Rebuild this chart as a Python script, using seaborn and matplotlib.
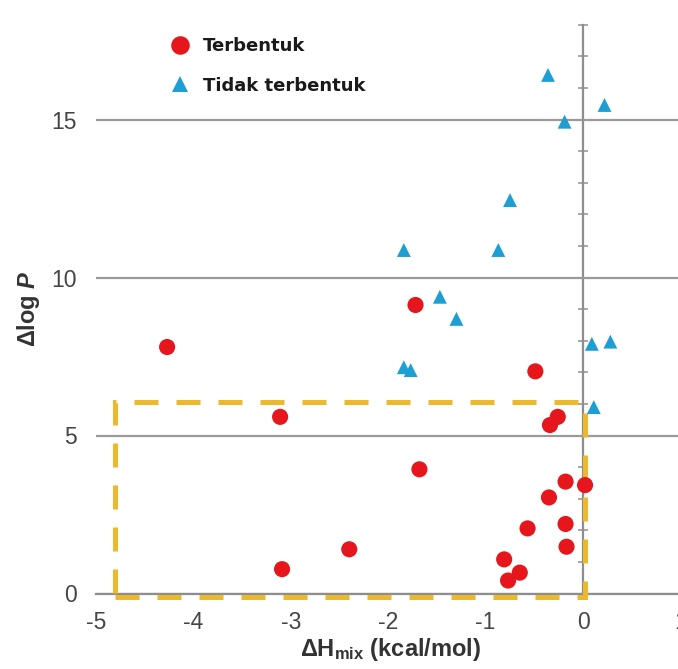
import matplotlib
matplotlib.use("Agg")
import matplotlib.pyplot as plt
from matplotlib.patches import Rectangle
import seaborn as sns
import pandas as pd

# ---- data ----
categories = ["Terbentuk", "Tidak terbentuk"]

terbentuk_dH = [-4.27, -3.11, -3.09, -2.40, -1.72, -1.68, -0.49, -0.26, -0.34,
                -0.18, 0.02, -0.35, -0.57, -0.18, -0.17, -0.81, -0.65, -0.77]
terbentuk_dlogP = [7.80, 5.59, 0.77, 1.40, 9.13, 3.93, 7.03, 5.59, 5.33,
                   3.54, 3.43, 3.04, 2.06, 2.20, 1.48, 1.08, 0.66, 0.41]

tidak_dH = [-0.36, 0.22, -0.19, -0.75, -1.84, -0.87, -1.47, -1.30, -1.84,
            -1.77, 0.09, 0.28, 0.11]
tidak_dlogP = [16.41, 15.46, 14.93, 12.45, 10.87, 10.87, 9.39, 8.69, 7.16,
               7.07, 7.90, 7.97, 5.90]

x_ticks = [-5, -4, -3, -2, -1, 0, 1]
y_ticks = [0, 5, 10, 15]

# highlighted region (dashed box)
box_x0, box_x1 = -4.8, 0.02
box_y0, box_y1 = -0.1, 6.05

df = pd.DataFrame({
    "dH": terbentuk_dH + tidak_dH,
    "dlogP": terbentuk_dlogP + tidak_dlogP,
    "Kategori": [categories[0]] * len(terbentuk_dH) + [categories[1]] * len(tidak_dH),
})

# ---- style ----
sns.set_style("white")
plt.rcParams["font.family"] = ["Liberation Sans", "DejaVu Sans"]
plt.rcParams["axes.unicode_minus"] = False
plt.rcParams["mathtext.fontset"] = "custom"
plt.rcParams["mathtext.rm"] = "Liberation Sans:bold"
plt.rcParams["mathtext.it"] = "Liberation Sans:bold:italic"
plt.rcParams["mathtext.bf"] = "Liberation Sans:bold"

RED = "#E5161C"
BLUE = "#1E9FD4"
GOLD = "#EBB92B"
GRID = "#9A9A9A"
AXC = "#8E8E8E"
TXT = "#454545"

fig = plt.figure(figsize=(6.78, 6.69), dpi=100)
ax = fig.add_axes([96 / 678, (669 - 593.5) / 669, 584.5 / 678, 568.8 / 669])

sns.scatterplot(
    data=df, x="dH", y="dlogP",
    hue="Kategori", style="Kategori", size="Kategori",
    palette={categories[0]: RED, categories[1]: BLUE},
    markers={categories[0]: "o", categories[1]: "^"},
    sizes={categories[0]: 135, categories[1]: 100},
    linewidth=0, ax=ax, zorder=4,
)

ax.set_xlim(-5, 1)
ax.set_ylim(0, 18)

# dashed highlight box
ax.add_patch(Rectangle((box_x0, box_y0), box_x1 - box_x0, box_y1 - box_y0,
                       fill=False, edgecolor=GOLD, linewidth=3.6,
                       linestyle=(0, (4.8, 3.6)), clip_on=False, zorder=3))

# axes / grid
for s in ["top", "right", "left"]:
    ax.spines[s].set_visible(False)
ax.spines["bottom"].set_color(AXC)
ax.spines["bottom"].set_linewidth(1.6)
ax.set_xticks(x_ticks)
ax.set_xticks([v + 0.5 for v in x_ticks[:-1]], minor=True)
ax.set_yticks(y_ticks)
ax.tick_params(axis="x", which="both", direction="out", length=2.5, width=1,
               color=AXC, labelsize=16.5, labelcolor=TXT, pad=10)
ax.tick_params(axis="y", length=0, labelsize=16.5, labelcolor=TXT, pad=14)
ax.yaxis.grid(True, color=GRID, linewidth=1.6)
ax.xaxis.grid(False)
ax.set_axisbelow(True)

# vertical axis line crossing at x = 0
sec = ax.secondary_yaxis(0, transform=ax.transData)
sec.set_yticks(range(0, 19))
sec.tick_params(direction="inout", length=7, width=1.1, color=AXC,
                labelleft=False, labelright=False)
for s in sec.spines.values():
    s.set_color(AXC)
    s.set_linewidth(1.6)

ax.set_xlabel(r"ΔH$_{\mathrm{mix}}$ (kcal/mol)", fontsize=17, fontweight="bold", color="#333333")
ax.set_ylabel(r"Δlog $P$", fontsize=17, fontweight="bold", color="#333333")
ax.xaxis.set_label_coords((391 - 96) / 584.5, (593.5 - 636) / 568.8)
ax.yaxis.set_label_coords((42 - 96) / 584.5, 0.5)

sns.move_legend(
    ax, loc="upper left", bbox_to_anchor=(171 / 678, 1 - 37 / 669),
    bbox_transform=fig.transFigure, title=None, frameon=False,
    borderpad=0, borderaxespad=0, handlelength=1.0, handletextpad=0.75,
    labelspacing=1.2, markerscale=1.15,
    prop={"family": "DejaVu Sans", "weight": "bold", "size": 13},
)
for t in ax.get_legend().get_texts():
    t.set_color("#1A1A1A")

fig.savefig("out.png", dpi=100)
